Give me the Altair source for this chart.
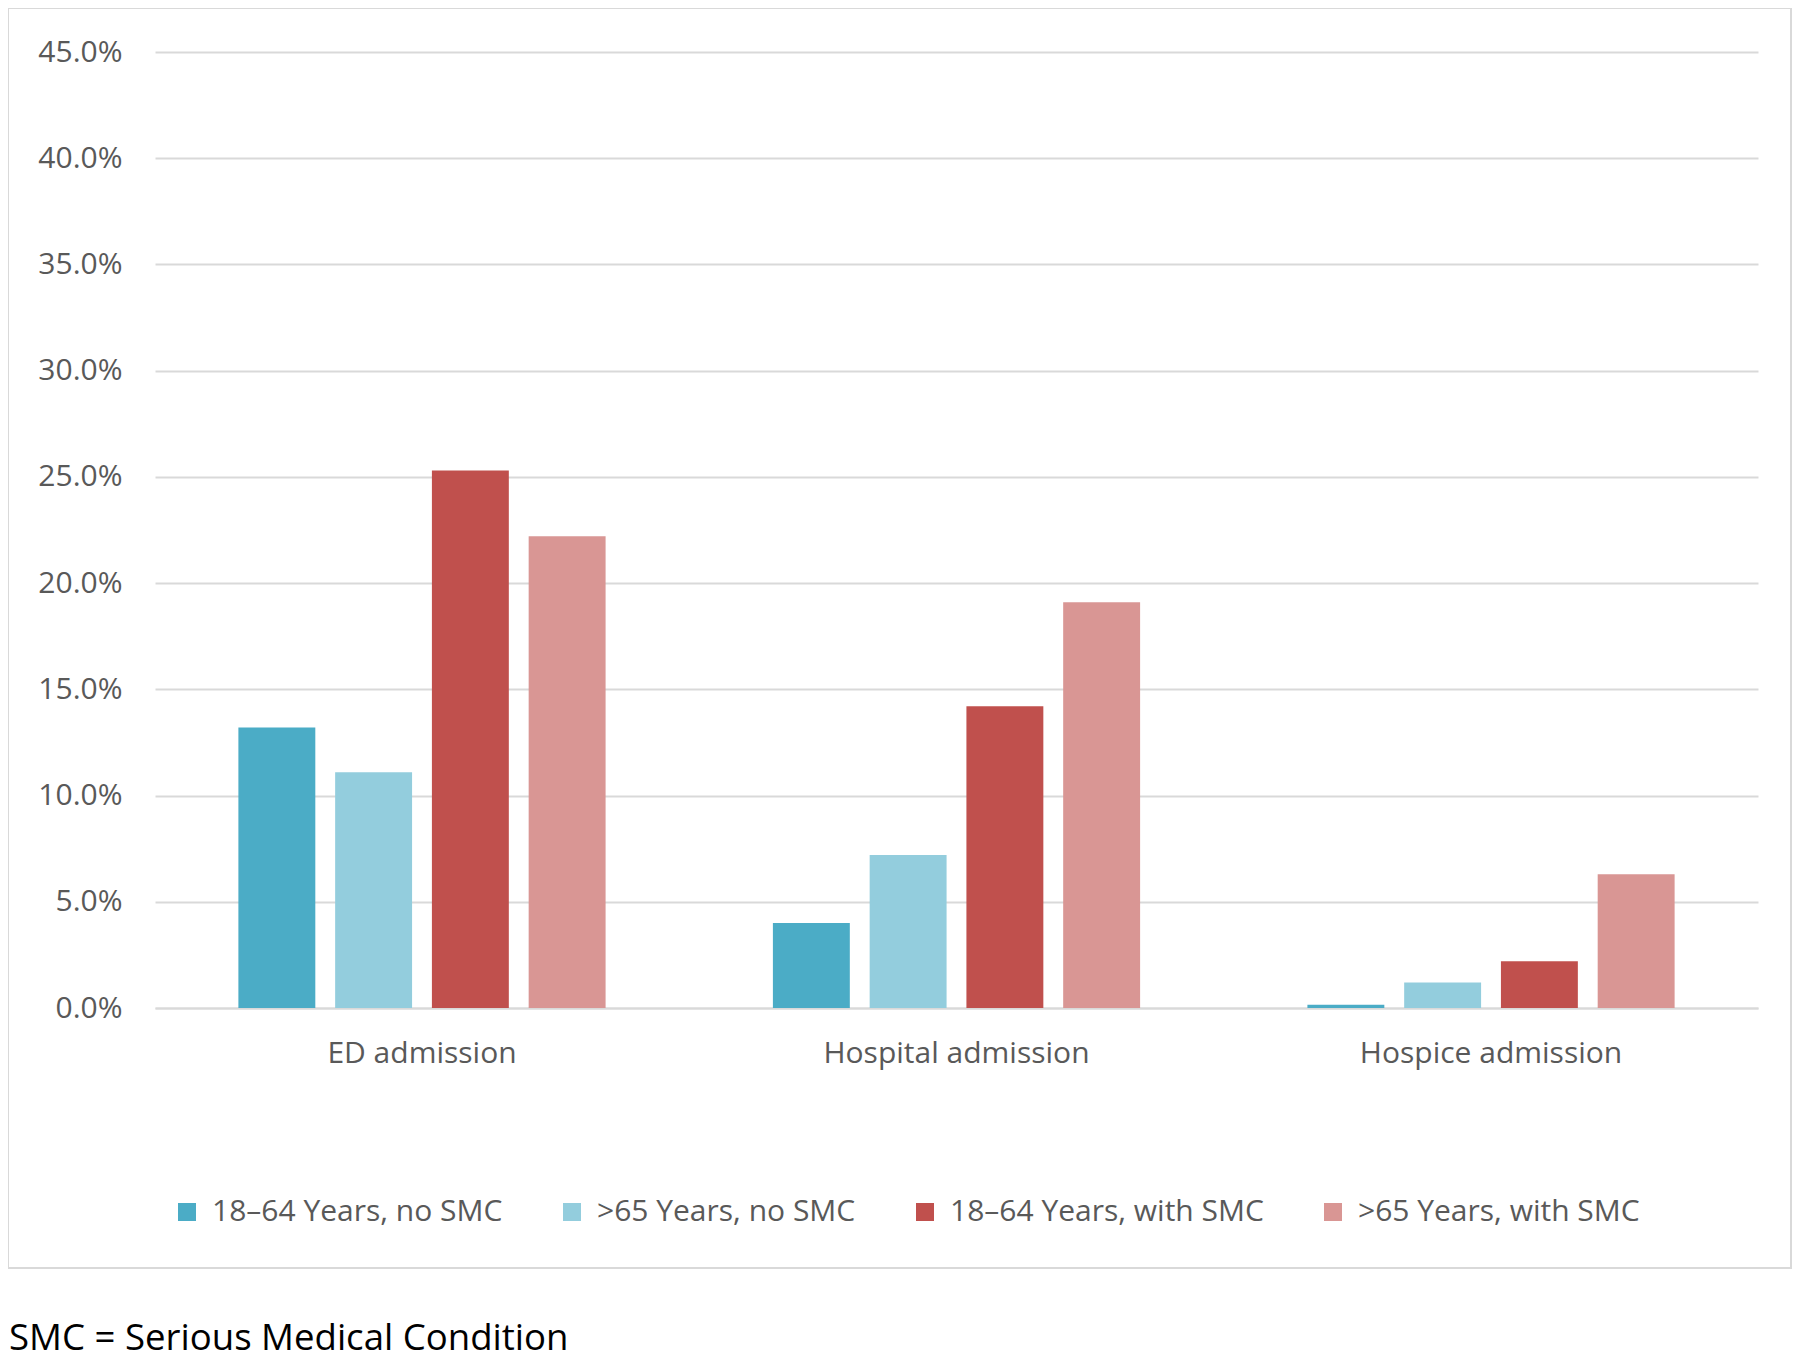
import altair as alt
import pandas as pd

categories = ["ED admission", "Hospital admission", "Hospice admission"]
series = ["18–64 Years, no SMC", ">65 Years, no SMC", "18–64 Years, with SMC", ">65 Years, with SMC"]
vals_18_64_no_smc = [13.2, 4.0, 0.15]
vals_65_no_smc = [11.1, 7.2, 1.2]
vals_18_64_with_smc = [25.3, 14.2, 2.2]
vals_65_with_smc = [22.2, 19.1, 6.3]
colors = ["#4BACC6", "#93CDDD", "#C0504D", "#D99694"]
y_ticks = [0.0, 0.05, 0.10, 0.15, 0.20, 0.25, 0.30, 0.35, 0.40, 0.45]
footnote = "SMC = Serious Medical Condition"

rows = []
for s, vals in zip(series, [vals_18_64_no_smc, vals_65_no_smc, vals_18_64_with_smc, vals_65_with_smc]):
    for c, v in zip(categories, vals):
        rows.append({"category": c, "series": s, "value": v / 100.0})
df = pd.DataFrame(rows)

GRID = "#D9D9D9"
LABEL = "#595959"

bars = alt.Chart(df).mark_bar().encode(
    x=alt.X("category:N", sort=categories, title=None,
            scale=alt.Scale(paddingInner=0.313, paddingOuter=0.156),
            axis=alt.Axis(labelAngle=0, ticks=False, domainColor=GRID, domainWidth=2,
                          labelFontSize=30, labelColor=LABEL, labelPadding=30,
                          labelLimit=600)),
    xOffset=alt.XOffset("series:N", sort=series,
                        scale=alt.Scale(paddingInner=0.205, paddingOuter=0)),
    y=alt.Y("value:Q", title=None,
            scale=alt.Scale(domain=[0, 0.45], nice=False),
            axis=alt.Axis(values=y_ticks, format=".1%", ticks=False, domain=False,
                          gridColor=GRID, gridWidth=2, labelFontSize=30,
                          labelColor=LABEL, labelPadding=33)),
    color=alt.Color("series:N", sort=series,
                    scale=alt.Scale(domain=series, range=colors),
                    legend=alt.Legend(orient="none", legendX=17, legendY=1145,
                                      direction="horizontal", columns=4, title=None,
                                      symbolType="square", symbolSize=324,
                                      symbolStrokeWidth=0, labelFontSize=30,
                                      labelColor=LABEL, labelOffset=10,
                                      columnPadding=54, labelLimit=600)),
)

border = alt.Chart(pd.DataFrame({"a": [0]})).mark_rect(
    fillOpacity=0, stroke=GRID, strokeWidth=2
).encode(
    x=alt.value(-147), x2=alt.value(1636), y=alt.value(-44), y2=alt.value(1216)
)

note = alt.Chart(pd.DataFrame({"t": [footnote]})).mark_text(
    align="left", baseline="alphabetic", fontSize=36.6, color="black", font="Open Sans"
).encode(
    text="t:N", x=alt.value(-146), y=alt.value(1298)
)

chart = alt.layer(border, bars, note).properties(
    width=1603, height=956,
    autosize=alt.AutoSizeParams(type="none"),
    padding={"left": 147, "top": 44, "right": 34, "bottom": 354},
    background="white",
).configure(font="Open Sans").configure_view(stroke="transparent")

chart.save("out.html", embed_options={"renderer": "svg", "actions": False})
